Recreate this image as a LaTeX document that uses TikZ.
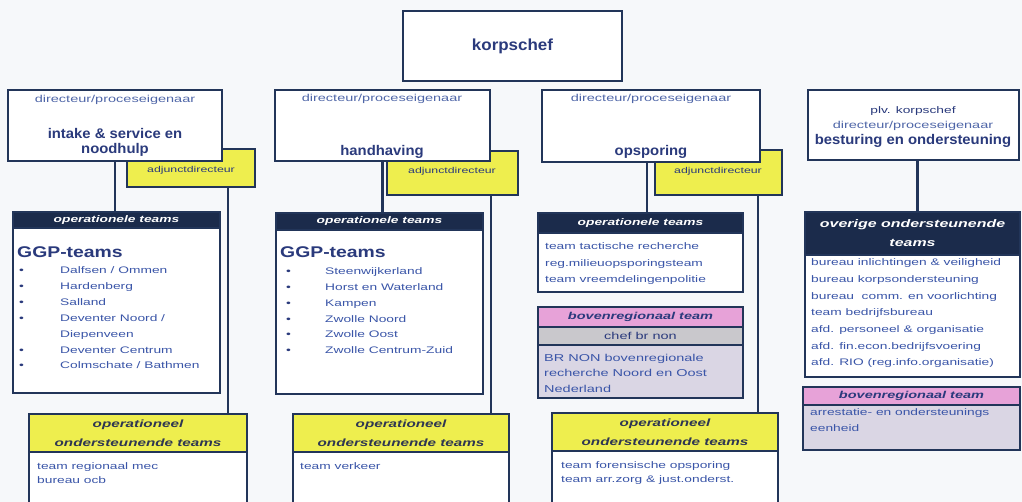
\documentclass[tikz,border=0pt]{standalone}
\usepackage{fontspec}
\setmainfont{Liberation Sans}
\newfontfamily\fwide[FakeStretch=1.45]{Liberation Sans}
\newfontfamily\fbold[FakeStretch=1.06]{Liberation Sans}
\newfontfamily\fmid[FakeStretch=1.25]{Liberation Sans}
\definecolor{bord}{HTML}{223559}
\definecolor{hdr}{HTML}{1B2B4B}
\definecolor{ttl}{HTML}{2A3A7C}
\definecolor{itm}{HTML}{3A55A8}
\definecolor{dirc}{HTML}{4F66A8}
\definecolor{yel}{HTML}{EEEE4E}
\definecolor{yelt}{HTML}{2E3652}
\definecolor{pnk}{HTML}{E7A2D8}
\definecolor{gry}{HTML}{C9C8CC}
\definecolor{lav}{HTML}{DAD6E4}
\definecolor{bg}{HTML}{F6F8FA}
\begin{document}
\begin{tikzpicture}[x=1pt,y=-1pt,
 frame/.style={draw=bord, line width=2pt, fill=white, anchor=north west, inner sep=0pt, outer sep=0pt},
 adj/.style={frame, fill=yel},
 hd/.style={frame, fill=hdr, text=white, align=center, font=\fwide\bfseries\itshape\fontsize{9.5}{11}\selectfont},
 yhd/.style={frame, fill=yel, text=yelt, align=center, font=\fwide\bfseries\itshape\fontsize{10.5}{19}\selectfont},
 phd/.style={frame, fill=pnk, text=ttl, align=center, font=\fwide\bfseries\itshape\fontsize{10}{12}\selectfont},
 ghd/.style={frame, fill=gry, text=ttl, align=center, font=\fwide\fontsize{10}{12}\selectfont},
 dirt/.style={inner sep=0pt, text=dirc, font=\fwide\fontsize{10}{12}\selectfont},
 ttlt/.style={inner sep=0pt, text=ttl, font=\fbold\bfseries\fontsize{14}{16}\selectfont},
 adjt/.style={inner sep=0pt, text=ttl, font=\fwide\fontsize{8.5}{10}\selectfont},
 itm/.style={inner sep=0pt, anchor=base west, text=itm, font=\fwide\fontsize{9.5}{12}\selectfont},
 bul/.style={inner sep=0pt, anchor=base west, text=ttl, font=\fwide\fontsize{9.5}{12}\selectfont},
 ggp/.style={inner sep=0pt, anchor=base west, text=ttl, font=\fmid\bfseries\fontsize{15.5}{17}\selectfont},
 conn/.style={draw=bord, line width=2.4pt}
]
\fill[bg] (0,0) rectangle (1022,502);
\clip (0,0) rectangle (1022,502);

% top
\node[frame, minimum width=219pt, minimum height=70pt, text=ttl, font=\fbold\bfseries\fontsize{16}{18}\selectfont] (kc) at (403,11) {korpschef};

% adjunct boxes (behind director boxes)
\node[adj, minimum width=128pt, minimum height=38pt] (a1) at (127,149) {};
\node[adj, minimum width=131pt, minimum height=44pt] (a2) at (387,151) {};
\node[adj, minimum width=127pt, minimum height=45pt] (a3) at (655,150) {};

% director boxes
\node[frame, minimum width=214pt, minimum height=71pt] (b1) at (8,90) {};
\node[frame, minimum width=215pt, minimum height=71pt] (b2) at (275,90) {};
\node[frame, minimum width=218pt, minimum height=72pt] (b3) at (542,90) {};
\node[frame, minimum width=211pt, minimum height=70pt] (b4) at (808,90) {};

\node[dirt] (b1d) at (115,100) {directeur/proceseigenaar};
\node[ttlt] (b1t) at (115,133) {intake \& service en};
\node[ttlt] (b1u) at (115,150) {noodhulp};
\node[dirt] (b2d) at (382,99) {directeur/proceseigenaar};
\node[ttlt] (b2t) at (382,152) {handhaving};
\node[dirt] (b3d) at (651,99) {directeur/proceseigenaar};
\node[ttlt] (b3t) at (651,152) {opsporing};
\node[inner sep=0pt, text=ttl, font=\fwide\fontsize{9.5}{12}\selectfont] (b4p) at (913,111) {plv. korpschef};
\node[dirt] (b4d) at (913,126) {directeur/proceseigenaar};
\node[ttlt] (b4t) at (913,141) {besturing en ondersteuning};

\node[adjt] (a1t) at (191,170) {adjunctdirecteur};
\node[adjt] (a2t) at (452,171) {adjunctdirecteur};
\node[adjt] (a3t) at (718,171) {adjunctdirecteur};

% operationele teams boxes
\node[frame, minimum width=207pt, minimum height=181pt] (o1) at (13,212) {};
\node[hd, minimum width=207pt, minimum height=16pt] (o1h) at (13,212) {operationele teams};
\node[frame, minimum width=207pt, minimum height=181pt] (o2) at (276,213) {};
\node[hd, minimum width=207pt, minimum height=17pt] (o2h) at (276,213) {operationele teams};
\node[frame, minimum width=205pt, minimum height=79pt] (o3) at (538,213) {};
\node[hd, minimum width=205pt, minimum height=20pt] (o3h) at (538,213) {operationele teams};

% bovenregionaal (opsporing)
\node[frame, fill=lav, minimum width=205pt, minimum height=91pt] (r3) at (538,307) {};
\node[phd, minimum width=205pt, minimum height=20pt] (r3h) at (538,307) {bovenregionaal team};
\node[ghd, minimum width=205pt, minimum height=18pt] (r3g) at (538,327) {chef br non};

% overige
\node[frame, minimum width=215pt, minimum height=165pt] (ov) at (805,212) {};
\node[hd, minimum width=215pt, minimum height=43pt, font=\fwide\bfseries\itshape\fontsize{11}{19}\selectfont] (ovh) at (805,212) {overige ondersteunende\\teams};
\node[frame, fill=lav, minimum width=217pt, minimum height=63pt] (r4) at (803,387) {};
\node[phd, minimum width=217pt, minimum height=18pt] (r4h) at (803,387) {bovenregionaal team};

% yellow bottom boxes
\node[frame, minimum width=218pt, minimum height=100pt] (y1) at (29,414) {};
\node[yhd, minimum width=218pt, minimum height=38pt] (y1h) at (29,414) {operationeel\\ondersteunende teams};
\node[frame, minimum width=216pt, minimum height=100pt] (y2) at (293,414) {};
\node[yhd, minimum width=216pt, minimum height=38pt] (y2h) at (293,414) {operationeel\\ondersteunende teams};
\node[frame, minimum width=226pt, minimum height=100pt] (y3) at (552,413) {};
\node[yhd, minimum width=226pt, minimum height=38pt] (y3h) at (552,413) {operationeel\\ondersteunende teams};

% connectors
\draw[conn] (b1.south) -- (b1.south |- o1.north);
\draw[conn] (b2.south) -- (b2.south |- o2.north);
\draw[conn] ([xshift=-4pt]b3.south) -- ([xshift=-4pt]b3.south |- o3.north);
\draw[conn] ([xshift=4pt]b4.south) -- ([xshift=4pt]b4.south |- ov.north);
\draw[conn] ([xshift=-27pt]a1.south east) -- ([xshift=-27pt]a1.south east |- y1.north);
\draw[conn] ([xshift=-27pt]a2.south east) -- ([xshift=-27pt]a2.south east |- y2.north);
\draw[conn] ([xshift=-24pt]a3.south east) -- ([xshift=-24pt]a3.south east |- y3.north);

% GGP lists
\node[ggp] (g1t) at (17,258) {GGP-teams};
\foreach \t [count=\i] in {Dalfsen / Ommen, Hardenberg, Salland, Deventer Noord /, Diepenveen, Deventer Centrum, Colmschate / Bathmen}
  \node[itm] (g1-\i) at (60,{274+15.8*(\i-1)}) {\t};
\foreach \i in {1,2,3,4,6,7}
  \node[bul] (gb1-\i) at (19,{274+15.8*(\i-1)}) {•};
\node[ggp] (g2t) at (280,258) {GGP-teams};
\foreach \t [count=\i] in {Steenwijkerland, Horst en Waterland, Kampen, Zwolle Noord, Zwolle Oost, Zwolle Centrum-Zuid}
  \node[itm] (g2-\i) at (325,{275+15.7*(\i-1)}) {\t};
\foreach \i in {1,...,6}
  \node[bul] (gb2-\i) at (286,{275+15.7*(\i-1)}) {•};

% opsporing lists
\foreach \t [count=\i] in {team tactische recherche, reg.milieuopsporingsteam, team vreemdelingenpolitie}
  \node[itm] (o3-\i) at (545,{250+16.5*(\i-1)}) {\t};
\foreach \t [count=\i] in {BR NON bovenregionale, recherche Noord en Oost, Nederland}
  \node[itm, font=\fwide\fontsize{10}{12}\selectfont] (r3-\i) at (544,{361+15.5*(\i-1)}) {\t};

% overige list
\foreach \t [count=\i] in {bureau inlichtingen \& veiligheid, bureau korpsondersteuning, bureau~ comm. en voorlichting, team bedrijfsbureau, afd. personeel \& organisatie, afd. fin.econ.bedrijfsvoering, afd. RIO (reg.info.organisatie)}
  \node[itm] (ov-\i) at (811,{266+16.6*(\i-1)}) {\t};
\foreach \t [count=\i] in {arrestatie- en ondersteunings, eenheid}
  \node[itm] (r4-\i) at (810,{415+16*(\i-1)}) {\t};

% yellow box lists
\node[itm] (y1-1) at (37,469) {team regionaal mec};
\node[itm] (y1-2) at (37,483) {bureau ocb};
\node[itm] (y2-1) at (300,469) {team verkeer};
\node[itm] (y3-1) at (561,468) {team forensische opsporing};
\node[itm] (y3-2) at (561,482) {team arr.zorg \& just.onderst.};
\end{tikzpicture}
\end{document}
